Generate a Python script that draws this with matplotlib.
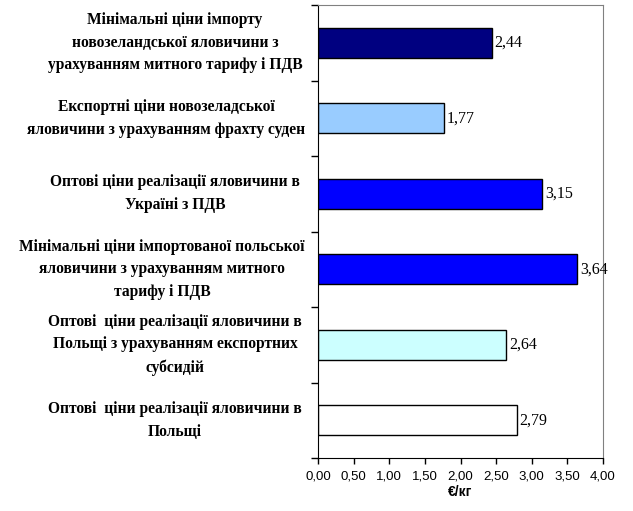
import matplotlib
matplotlib.use("Agg")
import matplotlib.pyplot as plt
from matplotlib.transforms import blended_transform_factory
import numpy as np

categories = [
    "Мінімальні ціни імпорту\nновозеландської яловичини з\nурахуванням митного тарифу і ПДВ",
    "Експортні ціни новозеладської\nяловичини з урахуванням фрахту суден",
    "Оптові ціни реалізації яловичини в\nУкраїні з ПДВ",
    "Мінімальні ціни імпортованої польської\nяловичини з урахуванням митного\nтарифу і ПДВ",
    "Оптові  ціни реалізації яловичини в\nПольщі з урахуванням експортних\nсубсидій",
    "Оптові  ціни реалізації яловичини в\nПольщі",
]
values = [2.44, 1.77, 3.15, 3.64, 2.64, 2.79]
colors = ["#000080", "#99CCFF", "#0000FF", "#0000FF", "#CCFFFF", "#FFFFFF"]
xticks = [0.0, 0.5, 1.0, 1.5, 2.0, 2.5, 3.0, 3.5, 4.0]
xlabel = "€/кг"

W, H = 633, 511
fig = plt.figure(figsize=(W/100, H/100), dpi=100)
ax = fig.add_axes([318/W, 1-458/H, (603-318)/W, (458-5)/H])

pos = np.arange(len(values))
ax.barh(pos, values, height=0.4, color=colors, edgecolor="black", linewidth=1)
ax.set_ylim(len(values)-0.5, -0.5)
ax.set_xlim(0, 4)

ax.set_xticks(xticks)
ax.set_xticklabels([f"{t:.2f}".replace(".", ",") for t in xticks],
                   fontsize=9.5, family="Liberation Sans")
ax.tick_params(axis="x", direction="out", length=4, width=1, pad=5)
ax.set_yticks([])
ax.set_yticks(np.arange(-0.5, len(values)+0.5, 1), minor=True)
ax.tick_params(axis="y", which="minor", direction="out", length=5, width=1)
ax.tick_params(axis="y", which="major", length=0)

for s in ["top", "right"]:
    ax.spines[s].set_color("#808080")
for s in ["left", "bottom"]:
    ax.spines[s].set_color("black")

tr = blended_transform_factory(fig.transFigure, ax.transData)
texts = []
for p, c in zip(pos, categories):
    t = ax.text(175/W, p, c, transform=tr, ha="center", va="center",
                multialignment="center", fontsize=11.2, fontweight="bold",
                family="Liberation Serif", linespacing=1.55)
    texts.append(t)

for p, v in zip(pos, values):
    ax.text(v + 0.04, p, f"{v:.2f}".replace(".", ","), va="center", ha="left",
            fontsize=11.5, family="Liberation Serif")

fig.text(460/W, 1-492/H, xlabel, ha="center", va="center",
         fontsize=10, fontweight="bold", family="Liberation Sans")

# keep labels within the left area (right edge at most ~305 px), like the original
fig.canvas.draw()
r = fig.canvas.get_renderer()
for t in texts:
    bb = t.get_window_extent(r)
    if bb.x1 > 305:
        x, y = t.get_position()
        t.set_position((x - (bb.x1 - 305)/W, y))

fig.savefig("out.png", dpi=100)
